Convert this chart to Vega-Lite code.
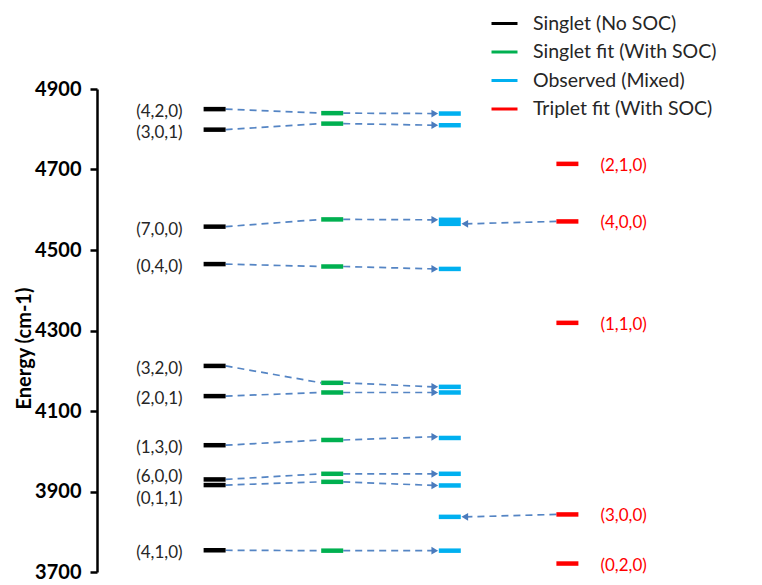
{
  "$schema": "https://vega.github.io/schema/vega-lite/v6.json",
  "width": 588,
  "height": 483,
  "autosize": {"type": "none"},
  "padding": {"left": 97, "top": 89, "right": 77, "bottom": 13},
  "background": "#ffffff",
  "config": {"view": {"stroke": null}, "font": "Lato"},
  "datasets": {
    "levels": [
      {"series": "Singlet (No SOC)", "state": "(4,2,0)", "energy": 4850},
      {"series": "Singlet (No SOC)", "state": "(3,0,1)", "energy": 4799},
      {"series": "Singlet (No SOC)", "state": "(7,0,0)", "energy": 4558},
      {"series": "Singlet (No SOC)", "state": "(0,4,0)", "energy": 4465},
      {"series": "Singlet (No SOC)", "state": "(3,2,0)", "energy": 4212},
      {"series": "Singlet (No SOC)", "state": "(2,0,1)", "energy": 4137},
      {"series": "Singlet (No SOC)", "state": "(1,3,0)", "energy": 4015},
      {"series": "Singlet (No SOC)", "state": "(6,0,0)", "energy": 3930},
      {"series": "Singlet (No SOC)", "state": "(0,1,1)", "energy": 3916},
      {"series": "Singlet (No SOC)", "state": "(4,1,0)", "energy": 3754},
      {"series": "Singlet fit (With SOC)", "energy": 4840},
      {"series": "Singlet fit (With SOC)", "energy": 4814},
      {"series": "Singlet fit (With SOC)", "energy": 4576},
      {"series": "Singlet fit (With SOC)", "energy": 4459},
      {"series": "Singlet fit (With SOC)", "energy": 4170},
      {"series": "Singlet fit (With SOC)", "energy": 4146},
      {"series": "Singlet fit (With SOC)", "energy": 4028},
      {"series": "Singlet fit (With SOC)", "energy": 3944},
      {"series": "Singlet fit (With SOC)", "energy": 3924},
      {"series": "Singlet fit (With SOC)", "energy": 3753},
      {"series": "Observed (Mixed)", "energy": 4839},
      {"series": "Observed (Mixed)", "energy": 4810},
      {"series": "Observed (Mixed)", "energy": 4575},
      {"series": "Observed (Mixed)", "energy": 4565},
      {"series": "Observed (Mixed)", "energy": 4453},
      {"series": "Observed (Mixed)", "energy": 4160},
      {"series": "Observed (Mixed)", "energy": 4146},
      {"series": "Observed (Mixed)", "energy": 4033},
      {"series": "Observed (Mixed)", "energy": 3944},
      {"series": "Observed (Mixed)", "energy": 3915},
      {"series": "Observed (Mixed)", "energy": 3837},
      {"series": "Observed (Mixed)", "energy": 3753},
      {"series": "Triplet fit (With SOC)", "state": "(2,1,0)", "energy": 4714},
      {"series": "Triplet fit (With SOC)", "state": "(4,0,0)", "energy": 4571},
      {"series": "Triplet fit (With SOC)", "state": "(1,1,0)", "energy": 4319},
      {"series": "Triplet fit (With SOC)", "state": "(3,0,0)", "energy": 3843},
      {"series": "Triplet fit (With SOC)", "state": "(0,2,0)", "energy": 3721}
    ],
    "links": [
      {"kind": "sg", "from": "Singlet (No SOC)", "to": "Singlet fit (With SOC)", "e1": 4850, "e2": 4840},
      {"kind": "sg", "from": "Singlet (No SOC)", "to": "Singlet fit (With SOC)", "e1": 4799, "e2": 4814},
      {"kind": "sg", "from": "Singlet (No SOC)", "to": "Singlet fit (With SOC)", "e1": 4558, "e2": 4576},
      {"kind": "sg", "from": "Singlet (No SOC)", "to": "Singlet fit (With SOC)", "e1": 4465, "e2": 4459},
      {"kind": "sg", "from": "Singlet (No SOC)", "to": "Singlet fit (With SOC)", "e1": 4212, "e2": 4170},
      {"kind": "sg", "from": "Singlet (No SOC)", "to": "Singlet fit (With SOC)", "e1": 4137, "e2": 4146},
      {"kind": "sg", "from": "Singlet (No SOC)", "to": "Singlet fit (With SOC)", "e1": 4015, "e2": 4028},
      {"kind": "sg", "from": "Singlet (No SOC)", "to": "Singlet fit (With SOC)", "e1": 3930, "e2": 3944},
      {"kind": "sg", "from": "Singlet (No SOC)", "to": "Singlet fit (With SOC)", "e1": 3916, "e2": 3924},
      {"kind": "sg", "from": "Singlet (No SOC)", "to": "Singlet fit (With SOC)", "e1": 3754, "e2": 3753},
      {"kind": "go", "from": "Singlet fit (With SOC)", "to": "Observed (Mixed)", "e1": 4840, "e2": 4839},
      {"kind": "go", "from": "Singlet fit (With SOC)", "to": "Observed (Mixed)", "e1": 4814, "e2": 4810},
      {"kind": "go", "from": "Singlet fit (With SOC)", "to": "Observed (Mixed)", "e1": 4576, "e2": 4575},
      {"kind": "go", "from": "Singlet fit (With SOC)", "to": "Observed (Mixed)", "e1": 4459, "e2": 4453},
      {"kind": "go", "from": "Singlet fit (With SOC)", "to": "Observed (Mixed)", "e1": 4170, "e2": 4160},
      {"kind": "go", "from": "Singlet fit (With SOC)", "to": "Observed (Mixed)", "e1": 4146, "e2": 4146},
      {"kind": "go", "from": "Singlet fit (With SOC)", "to": "Observed (Mixed)", "e1": 4028, "e2": 4036},
      {"kind": "go", "from": "Singlet fit (With SOC)", "to": "Observed (Mixed)", "e1": 3944, "e2": 3944},
      {"kind": "go", "from": "Singlet fit (With SOC)", "to": "Observed (Mixed)", "e1": 3924, "e2": 3915},
      {"kind": "go", "from": "Singlet fit (With SOC)", "to": "Observed (Mixed)", "e1": 3753, "e2": 3753},
      {"kind": "to", "from": "Triplet fit (With SOC)", "to": "Observed (Mixed)", "e1": 4571, "e2": 4565},
      {"kind": "to", "from": "Triplet fit (With SOC)", "to": "Observed (Mixed)", "e1": 3843, "e2": 3837}
    ]
  },
  "layer": [
    {
      "data": {"name": "links"},
      "transform": [{"filter": "datum.kind === 'sg'"}],
      "mark": {"type": "rule", "color": "#5585c4", "strokeWidth": 1.7, "strokeDash": [7, 5], "xOffset": 11, "x2Offset": -11},
      "encoding": {
        "x": {"field": "from", "type": "nominal", "axis": null, "scale": {"type": "point", "padding": 1, "domain": ["Singlet (No SOC)", "Singlet fit (With SOC)", "Observed (Mixed)", "Triplet fit (With SOC)"]}},
        "x2": {"field": "to"},
        "y": {"field": "e1", "type": "quantitative", "title": "Energy (cm-1)", "scale": {"domain": [3700, 4900], "zero": false, "nice": false},
          "axis": {"values": [3700, 3900, 4100, 4300, 4500, 4700, 4900], "format": "d", "grid": false, "domainColor": "#000", "domainWidth": 2.5, "tickColor": "#000", "tickWidth": 2.5, "tickSize": 7, "labelFontSize": 20, "labelFontWeight": "bold", "labelColor": "#000", "labelPadding": 9, "titleFontSize": 20, "titleFontWeight": "bold", "titleColor": "#000", "titlePadding": 0, "titleY": 259}},
        "y2": {"field": "e2"}
      }
    },
    {
      "data": {"name": "links"},
      "transform": [{"filter": "datum.kind === 'go'"}],
      "mark": {"type": "rule", "color": "#5585c4", "strokeWidth": 1.7, "strokeDash": [7, 5], "xOffset": 11, "x2Offset": -16},
      "encoding": {
        "x": {"field": "from", "type": "nominal"},
        "x2": {"field": "to"},
        "y": {"field": "e1", "type": "quantitative", "title": "Energy (cm-1)"},
        "y2": {"field": "e2"}
      }
    },
    {
      "data": {"name": "links"},
      "transform": [{"filter": "datum.kind === 'to'"}],
      "mark": {"type": "rule", "color": "#5585c4", "strokeWidth": 1.7, "strokeDash": [7, 5], "xOffset": -11, "x2Offset": 16},
      "encoding": {
        "x": {"field": "from", "type": "nominal"},
        "x2": {"field": "to"},
        "y": {"field": "e1", "type": "quantitative", "title": "Energy (cm-1)"},
        "y2": {"field": "e2"}
      }
    },
    {
      "data": {"name": "links"},
      "transform": [{"filter": "datum.kind === 'go'"}],
      "mark": {"type": "point", "shape": "triangle-right", "filled": true, "size": 60, "color": "#4a7bbd", "opacity": 1, "xOffset": -15},
      "encoding": {
        "x": {"field": "to", "type": "nominal"},
        "y": {"field": "e2", "type": "quantitative", "title": "Energy (cm-1)"}
      }
    },
    {
      "data": {"name": "links"},
      "transform": [{"filter": "datum.kind === 'to'"}],
      "mark": {"type": "point", "shape": "triangle-left", "filled": true, "size": 60, "color": "#4a7bbd", "opacity": 1, "xOffset": 15},
      "encoding": {
        "x": {"field": "to", "type": "nominal"},
        "y": {"field": "e2", "type": "quantitative", "title": "Energy (cm-1)"}
      }
    },
    {
      "data": {"name": "levels"},
      "mark": {"type": "rule", "strokeWidth": 4.5, "xOffset": -11, "x2Offset": 11},
      "encoding": {
        "x": {"field": "series", "type": "nominal"},
        "x2": {"field": "series"},
        "y": {"field": "energy", "type": "quantitative", "title": "Energy (cm-1)"},
        "color": {"field": "series", "type": "nominal",
          "scale": {"domain": ["Singlet (No SOC)", "Singlet fit (With SOC)", "Observed (Mixed)", "Triplet fit (With SOC)"], "range": ["#000000", "#00b050", "#00b0f0", "#ff0000"]},
          "legend": {"title": null, "orient": "none", "legendX": 393, "legendY": -80, "symbolType": "stroke", "symbolSize": 676, "symbolStrokeWidth": 3, "labelFontSize": 19.5, "labelFont": "Lato", "labelColor": "#262626", "labelOffset": 14, "labelLimit": 0, "rowPadding": 4.5, "padding": 0}}
      }
    },
    {
      "data": {"name": "levels"},
      "transform": [{"filter": "datum.series === 'Singlet (No SOC)' && datum.state !== '(0,1,1)' && datum.state !== '(6,0,0)'"}],
      "mark": {"type": "text", "align": "right", "baseline": "middle", "xOffset": -32, "dy": 3, "fontSize": 17, "color": "#262626"},
      "encoding": {
        "x": {"field": "series", "type": "nominal"},
        "y": {"field": "energy", "type": "quantitative", "title": "Energy (cm-1)"},
        "text": {"field": "state"}
      }
    },
    {
      "data": {"name": "levels"},
      "transform": [{"filter": "datum.state === '(6,0,0)'"}],
      "mark": {"type": "text", "align": "right", "baseline": "middle", "xOffset": -32, "dy": -2, "fontSize": 17, "color": "#262626"},
      "encoding": {
        "x": {"field": "series", "type": "nominal"},
        "y": {"field": "energy", "type": "quantitative", "title": "Energy (cm-1)"},
        "text": {"field": "state"}
      }
    },
    {
      "data": {"name": "levels"},
      "transform": [{"filter": "datum.state === '(0,1,1)'"}],
      "mark": {"type": "text", "align": "right", "baseline": "middle", "xOffset": -32, "dy": 14, "fontSize": 17, "color": "#262626"},
      "encoding": {
        "x": {"field": "series", "type": "nominal"},
        "y": {"field": "energy", "type": "quantitative", "title": "Energy (cm-1)"},
        "text": {"field": "state"}
      }
    },
    {
      "data": {"name": "levels"},
      "transform": [{"filter": "datum.series === 'Triplet fit (With SOC)'"}],
      "mark": {"type": "text", "align": "left", "baseline": "middle", "xOffset": 33, "dy": 2, "fontSize": 17, "color": "#ff0000"},
      "encoding": {
        "x": {"field": "series", "type": "nominal"},
        "y": {"field": "energy", "type": "quantitative", "title": "Energy (cm-1)"},
        "text": {"field": "state"}
      }
    }
  ]
}
